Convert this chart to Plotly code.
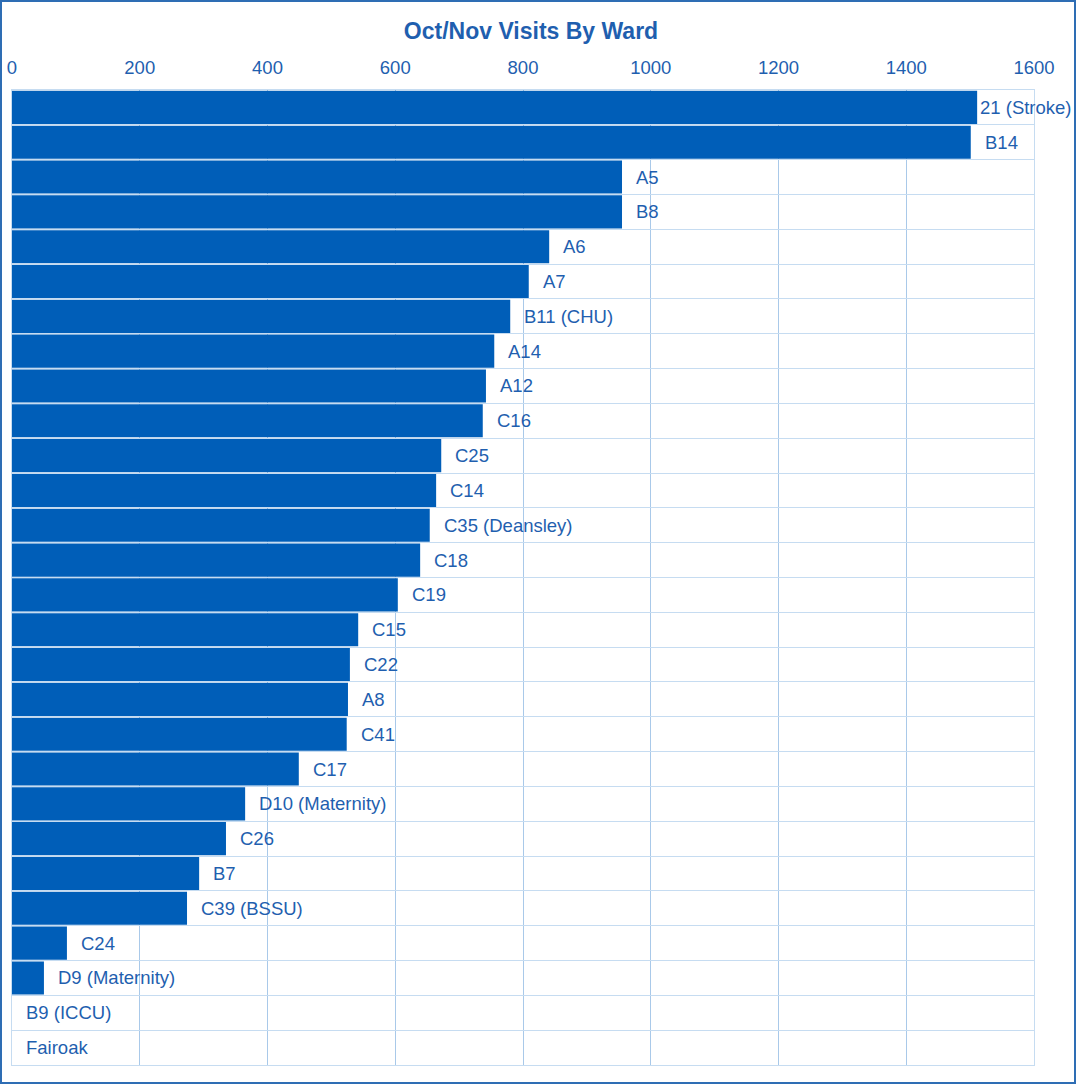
import plotly.graph_objects as go

wards = ["21 (Stroke)", "B14", "A5", "B8", "A6", "A7", "B11 (CHU)", "A14", "A12", "C16",
         "C25", "C14", "C35 (Deansley)", "C18", "C19", "C15", "C22", "A8", "C41", "C17",
         "D10 (Maternity)", "C26", "B7", "C39 (BSSU)", "C24", "D9 (Maternity)", "B9 (ICCU)", "Fairoak"]
visits = [1511, 1501, 955, 955, 841, 809, 780, 755, 742, 737,
          672, 664, 654, 639, 604, 542, 529, 526, 524, 449,
          365, 335, 293, 274, 86, 50, 0, 0]
x_ticks = [0, 200, 400, 600, 800, 1000, 1200, 1400, 1600]

W, H = 1078, 1086
ML, MR, MT, MB = 12, 44, 90, 21
plot_w = W - ML - MR
plot_h = H - MT - MB
BAR = "#005EB8"
TXT = "#1F5FAF"
VGRID = "#A9C9E9"
HGRID = "#C6DCF1"
FONT = "Liberation Sans, Arial, sans-serif"
FS = 18.5

fig = go.Figure()
fig.add_trace(go.Bar(x=visits, y=wards, orientation="h", marker=dict(color=BAR, line=dict(width=0)),
                     hoverinfo="x+y"))

px_per = plot_w / 1600
for w, v in zip(wards, visits):
    est = len(w) * 9.0
    shift = 12
    if ML + v * px_per + shift + est > W - 6:
        shift = 1
    fig.add_annotation(x=v, y=w, text=w, showarrow=False, xanchor="left", xshift=shift,
                       font=dict(family=FONT, size=FS, color=TXT))

fig.update_layout(
    width=W, height=H,
    margin=dict(l=ML, r=MR, t=MT, b=MB, autoexpand=False),
    paper_bgcolor="white", plot_bgcolor="white",
    bargap=0.05,
    showlegend=False,
    title=dict(text="<b>Oct/Nov Visits By Ward</b>", x=531 / W, xanchor="center",
               y=1 - 31 / H, yanchor="middle",
               font=dict(family=FONT, size=23, color=TXT)),
    xaxis=dict(side="top", range=[0, 1600], tickvals=x_ticks, ticks="",
               showgrid=True, gridcolor=VGRID, gridwidth=1, zeroline=False,
               showline=True, linecolor=HGRID, mirror=True, automargin=False,
               tickfont=dict(family=FONT, size=FS, color=TXT), ticklabelstandoff=8),
    yaxis=dict(type="category", autorange="reversed", tickson="boundaries", ticks="",
               showticklabels=False, showgrid=True, gridcolor=HGRID, gridwidth=1,
               showline=True, linecolor=HGRID, mirror=True, automargin=False),
    font=dict(family=FONT, color=TXT),
)

# outer frame around the whole chart
fig.add_shape(type="rect", xref="paper", yref="paper",
              x0=(1 - ML) / plot_w, x1=(1075 - ML) / plot_w,
              y0=(MT + plot_h - 1083) / plot_h, y1=(MT + plot_h - 1) / plot_h,
              line=dict(color="#2E6DB4", width=2), layer="below")

fig.write_html("out.html")
